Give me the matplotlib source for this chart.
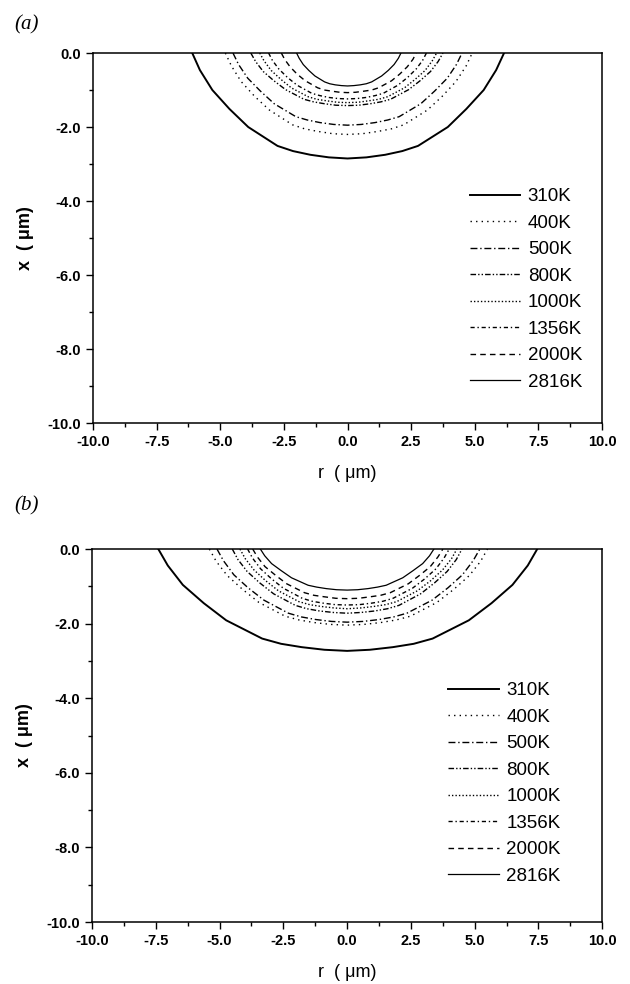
import numpy as np
import matplotlib
matplotlib.use('Agg')
import matplotlib.pyplot as plt
from matplotlib.ticker import MultipleLocator

plt.rcParams['font.family'] = ['Liberation Sans', 'DejaVu Sans']

labels = ['310K', '400K', '500K', '800K', '1000K', '1356K', '2000K', '2816K']

# panel (a) isotherms: r and x
r_a = [
    [-6.1, -5.80, -5.31, -4.64, -3.90, -2.75, -2.14, -1.46, -0.73, 0, 0.74, 1.48, 2.15, 2.77, 3.94, 4.67, 5.35, 5.84, 6.15],
    [-4.8, -4.56, -4.18, -3.65, -3.07, -2.16, -1.68, -1.15, -0.58, 0, 0.59, 1.18, 1.72, 2.21, 3.14, 3.72, 4.26, 4.66, 4.9],
    [-4.5, -4.28, -3.92, -3.42, -2.88, -2.03, -1.58, -1.08, -0.54, 0, 0.54, 1.08, 1.58, 2.03, 2.88, 3.42, 3.92, 4.28, 4.5],
    [-3.8, -3.61, -3.31, -2.89, -2.43, -1.71, -1.33, -0.91, -0.46, 0, 0.45, 0.90, 1.31, 1.69, 2.40, 2.85, 3.26, 3.56, 3.75],
    [-3.45, -3.28, -3.0, -2.62, -2.21, -1.55, -1.21, -0.83, -0.41, 0, 0.42, 0.84, 1.23, 1.58, 2.24, 2.66, 3.05, 3.33, 3.5],
    [-3.1, -2.95, -2.70, -2.36, -1.98, -1.40, -1.09, -0.74, -0.37, 0, 0.37, 0.74, 1.09, 1.40, 1.98, 2.36, 2.70, 2.95, 3.1],
    [-2.6, -2.47, -2.26, -1.98, -1.66, -1.17, -0.91, -0.62, -0.31, 0, 0.32, 0.65, 0.95, 1.22, 1.73, 2.05, 2.35, 2.57, 2.7],
    [-2.0, -1.90, -1.74, -1.52, -1.28, -0.90, -0.70, -0.48, -0.24, 0, 0.25, 0.50, 0.74, 0.95, 1.34, 1.60, 1.83, 2.0, 2.1],
]
x_a = [
    [0, -0.46, -1.00, -1.51, -2.00, -2.51, -2.65, -2.75, -2.82, -2.85, -2.82, -2.75, -2.65, -2.51, -2.00, -1.51, -1.00, -0.46, 0],
    [0, -0.35, -0.77, -1.17, -1.54, -1.94, -2.05, -2.12, -2.18, -2.2, -2.18, -2.12, -2.05, -1.94, -1.54, -1.17, -0.77, -0.35, 0],
    [0, -0.31, -0.68, -1.03, -1.37, -1.72, -1.81, -1.88, -1.93, -1.95, -1.93, -1.88, -1.81, -1.72, -1.37, -1.03, -0.68, -0.31, 0],
    [0, -0.23, -0.50, -0.75, -0.99, -1.25, -1.32, -1.37, -1.41, -1.42, -1.41, -1.37, -1.32, -1.25, -0.99, -0.75, -0.50, -0.23, 0],
    [0, -0.21, -0.47, -0.71, -0.94, -1.18, -1.25, -1.29, -1.33, -1.34, -1.33, -1.29, -1.25, -1.18, -0.94, -0.71, -0.47, -0.21, 0],
    [0, -0.20, -0.43, -0.66, -0.87, -1.09, -1.15, -1.20, -1.23, -1.24, -1.23, -1.20, -1.15, -1.09, -0.87, -0.66, -0.43, -0.20, 0],
    [0, -0.17, -0.37, -0.57, -0.75, -0.94, -1.00, -1.03, -1.06, -1.07, -1.06, -1.03, -1.00, -0.94, -0.75, -0.57, -0.37, -0.17, 0],
    [0, -0.14, -0.31, -0.47, -0.62, -0.78, -0.83, -0.86, -0.88, -0.89, -0.88, -0.86, -0.83, -0.78, -0.62, -0.47, -0.31, -0.14, 0],
]

# panel (b) isotherms
r_b = [
    [-7.4, -7.03, -6.44, -5.62, -4.74, -3.33, -2.59, -1.78, -0.89, 0, 0.89, 1.79, 2.61, 3.35, 4.77, 5.66, 6.48, 7.08, 7.45],
    [-5.4, -5.13, -4.70, -4.10, -3.46, -2.43, -1.89, -1.30, -0.65, 0, 0.66, 1.32, 1.93, 2.48, 3.52, 4.18, 4.79, 5.23, 5.5],
    [-5.1, -4.85, -4.44, -3.88, -3.26, -2.30, -1.79, -1.22, -0.61, 0, 0.62, 1.25, 1.82, 2.34, 3.33, 3.95, 4.52, 4.94, 5.2],
    [-4.5, -4.28, -3.92, -3.42, -2.88, -2.03, -1.58, -1.08, -0.54, 0, 0.54, 1.08, 1.58, 2.03, 2.88, 3.42, 3.92, 4.28, 4.5],
    [-4.2, -3.99, -3.65, -3.19, -2.69, -1.89, -1.47, -1.01, -0.50, 0, 0.52, 1.03, 1.51, 1.94, 2.75, 3.27, 3.74, 4.09, 4.3],
    [-3.9, -3.71, -3.39, -2.96, -2.50, -1.76, -1.37, -0.94, -0.47, 0, 0.48, 0.96, 1.40, 1.80, 2.56, 3.04, 3.48, 3.80, 4.0],
    [-3.7, -3.52, -3.22, -2.81, -2.37, -1.67, -1.30, -0.89, -0.44, 0, 0.45, 0.90, 1.31, 1.69, 2.40, 2.85, 3.26, 3.56, 3.75],
    [-3.4, -3.23, -2.96, -2.58, -2.18, -1.53, -1.19, -0.82, -0.41, 0, 0.41, 0.82, 1.19, 1.53, 2.18, 2.58, 2.96, 3.23, 3.4],
]
x_b = [
    [0, -0.44, -0.96, -1.45, -1.91, -2.40, -2.54, -2.63, -2.70, -2.73, -2.70, -2.63, -2.54, -2.40, -1.91, -1.45, -0.96, -0.44, 0],
    [0, -0.33, -0.71, -1.08, -1.43, -1.80, -1.90, -1.97, -2.02, -2.04, -2.02, -1.97, -1.90, -1.80, -1.43, -1.08, -0.71, -0.33, 0],
    [0, -0.31, -0.69, -1.04, -1.37, -1.72, -1.82, -1.89, -1.94, -1.96, -1.94, -1.89, -1.82, -1.72, -1.37, -1.04, -0.69, -0.31, 0],
    [0, -0.28, -0.60, -0.91, -1.20, -1.51, -1.60, -1.66, -1.70, -1.72, -1.70, -1.66, -1.60, -1.51, -1.20, -0.91, -0.60, -0.28, 0],
    [0, -0.26, -0.56, -0.85, -1.12, -1.41, -1.49, -1.54, -1.58, -1.6, -1.58, -1.54, -1.49, -1.41, -1.12, -0.85, -0.56, -0.26, 0],
    [0, -0.24, -0.53, -0.80, -1.05, -1.32, -1.40, -1.45, -1.49, -1.5, -1.49, -1.45, -1.40, -1.32, -1.05, -0.80, -0.53, -0.24, 0],
    [0, -0.21, -0.47, -0.70, -0.93, -1.17, -1.24, -1.28, -1.32, -1.33, -1.32, -1.28, -1.24, -1.17, -0.93, -0.70, -0.47, -0.21, 0],
    [0, -0.18, -0.39, -0.58, -0.77, -0.97, -1.02, -1.06, -1.09, -1.1, -1.09, -1.06, -1.02, -0.97, -0.77, -0.58, -0.39, -0.18, 0],
]

styles = [
    ('-', 1.4),
    ((0, (1, 3)), 1.0),
    ((0, (5, 2, 1, 2)), 1.0),
    ((0, (4, 1.5, 1, 1.5, 1, 1.5)), 1.0),
    ((0, (1, 1.5)), 1.0),
    ((0, (3, 2, 1, 2)), 1.0),
    ((0, (4, 3)), 1.0),
    ('-', 0.9),
]

fig = plt.figure(figsize=(6.3, 9.84), dpi=100)
ax1 = fig.add_axes([0.1476, 0.5701, 0.808, 0.376])
ax2 = fig.add_axes([0.1460, 0.0630, 0.810, 0.379])


def draw(ax, rr, xx, leg_x, leg_y):
    for r, x, lab, (ls, lw) in zip(rr, xx, labels, styles):
        ax.plot(r, x, color='black', linestyle=ls, linewidth=lw, label=lab,
                solid_joinstyle='round')
    ax.set_xlim(-10, 10)
    ax.set_ylim(-10, 0)
    ax.xaxis.set_major_locator(MultipleLocator(2.5))
    ax.xaxis.set_minor_locator(MultipleLocator(1.25))
    ax.yaxis.set_major_locator(MultipleLocator(2.0))
    ax.yaxis.set_minor_locator(MultipleLocator(1.0))
    ax.xaxis.set_major_formatter(plt.FormatStrFormatter('%.1f'))
    ax.yaxis.set_major_formatter(plt.FormatStrFormatter('%.1f'))
    ax.tick_params(which='both', direction='out', top=False, right=False,
                   labelsize=10.5, width=1.0)
    ax.tick_params(which='major', length=5)
    ax.tick_params(which='minor', length=3)
    for t in ax.get_xticklabels() + ax.get_yticklabels():
        t.set_fontweight('bold')
    for s in ax.spines.values():
        s.set_linewidth(1.1)
    ax.set_xlabel('r  ( \u03bcm)', fontsize=13, labelpad=12)
    ax.set_ylabel('x  ( \u03bcm)', fontsize=13, fontweight='bold', labelpad=10)
    ax.legend(loc='upper left', bbox_to_anchor=(leg_x, leg_y), frameon=False,
              fontsize=13.5, handlelength=2.7, labelspacing=0.5, handletextpad=0.4,
              borderpad=0, borderaxespad=0)


draw(ax1, r_a, x_a, 0.74, 0.635)
draw(ax2, r_b, x_b, 0.698, 0.643)

fig.text(0.022, 0.975, '(a)', fontsize=15, style='italic', family='Liberation Serif', va='center')
fig.text(0.022, 0.486, '(b)', fontsize=15, style='italic', family='Liberation Serif', va='center')

plt.savefig('out.png', dpi=100)
